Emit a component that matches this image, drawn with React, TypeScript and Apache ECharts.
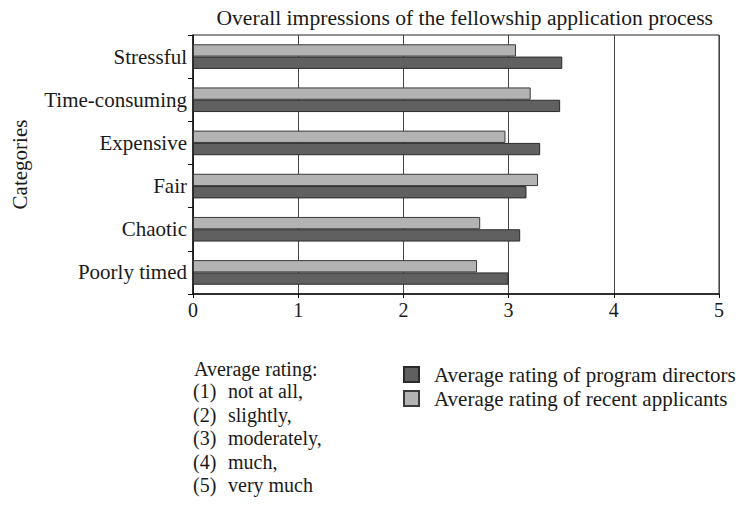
import React, { useEffect, useRef } from "react";
import * as echarts from "echarts";

const categories = ["Stressful", "Time-consuming", "Expensive", "Fair", "Chaotic", "Poorly timed"];
const directors = [3.51, 3.49, 3.3, 3.17, 3.11, 3.0];
const applicants = [3.07, 3.21, 2.97, 3.28, 2.73, 2.7];
const seriesNames = ["Average rating of program directors", "Average rating of recent applicants"];
const xTicks = [0, 1, 2, 3, 4, 5];
const titleText = "Overall impressions of the fellowship application process";
const ratingHeader = "Average rating:";
const ratingNums = ["(1)", "(2)", "(3)", "(4)", "(5)"];
const ratingWords = ["not at all,", "slightly,", "moderately,", "much,", "very much"];

const FONT = "Liberation Serif";
const FS = 21;
const TXT = "#1a1a1a";

export default function App() {
  const ref = useRef<HTMLDivElement>(null);
  useEffect(() => {
    if (!ref.current) return;
    const chart = echarts.init(ref.current, undefined, { renderer: "svg" });
    const ts = { fontFamily: FONT, fontSize: 20, fill: TXT };
    const graphics: any[] = [
      { type: "text", left: 194, top: 359, style: { ...ts, text: ratingHeader } },
    ];
    ratingNums.forEach((n, i) => {
      graphics.push({ type: "text", left: 193, top: 381 + i * 23.5, style: { ...ts, text: n } });
      graphics.push({ type: "text", left: 228, top: 381 + i * 23.5, style: { ...ts, text: ratingWords[i] } });
    });
    chart.setOption({
      animation: false,
      backgroundColor: "#ffffff",
      title: {
        text: titleText,
        right: 21,
        top: 2,
        textStyle: { fontFamily: FONT, fontSize: 21.6, fontWeight: "normal", color: TXT },
      },
      legend: {
        data: seriesNames,
        orient: "vertical",
        left: 403,
        top: 364,
        padding: 0,
        icon: "rect",
        itemWidth: 15,
        itemHeight: 15,
        itemGap: 3,
        textStyle: { fontFamily: FONT, fontSize: FS, color: TXT, padding: [0, 0, 0, 10] },
      },
      grid: {
        left: 193,
        top: 35,
        width: 526,
        height: 259,
        show: true,
        borderColor: "#222",
        borderWidth: 1,
        containLabel: false,
      },
      xAxis: {
        type: "value",
        min: 0,
        max: 5,
        interval: 1,
        axisLine: { show: true, lineStyle: { color: "#111", width: 1.5 } },
        axisTick: { show: true, length: 4, lineStyle: { color: "#111" } },
        axisLabel: {
          fontFamily: FONT,
          fontSize: 20,
          color: TXT,
          margin: 6,
          formatter: (v: number) => (xTicks.includes(v) ? String(v) : ""),
        },
        splitLine: { show: true, lineStyle: { color: "#444", width: 1 } },
      },
      yAxis: {
        type: "category",
        data: categories,
        inverse: true,
        name: "Categories",
        nameLocation: "middle",
        nameRotate: 90,
        nameGap: 163,
        nameTextStyle: { fontFamily: FONT, fontSize: FS, color: TXT },
        axisLine: { show: true, lineStyle: { color: "#111", width: 1.5 } },
        axisTick: { show: true, length: 5, lineStyle: { color: "#111" } },
        axisLabel: { fontFamily: FONT, fontSize: FS, color: TXT, margin: 6 },
        splitLine: { show: false },
      },
      series: [
        {
          name: seriesNames[1],
          type: "bar",
          data: applicants,
          barGap: "0%",
          barCategoryGap: "43%",
          itemStyle: { color: "#b3b3b3", borderColor: "#3a3a3a", borderWidth: 1 },
        },
        {
          name: seriesNames[0],
          type: "bar",
          data: directors,
          barGap: "0%",
          barCategoryGap: "43%",
          itemStyle: { color: "#606060", borderColor: "#2a2a2a", borderWidth: 1 },
        },
      ],
      graphic: graphics,
    });
    return () => chart.dispose();
  }, []);
  return (
    <div
      ref={ref}
      style={{ position: "absolute", left: 0, top: 0, width: 739, height: 509, background: "#fff" }}
    />
  );
}
